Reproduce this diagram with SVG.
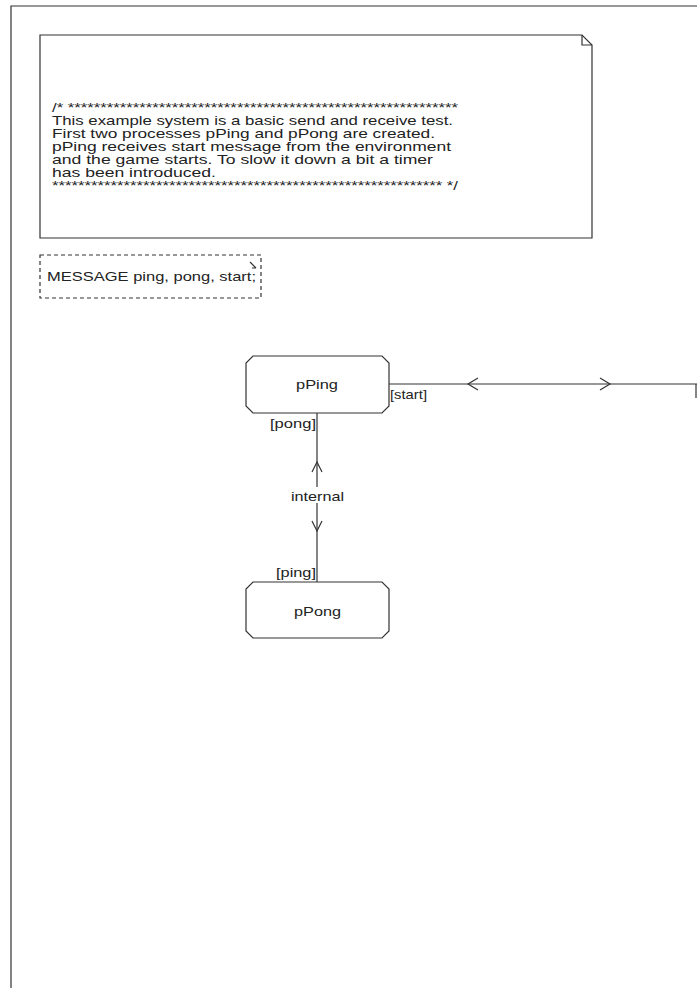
<svg xmlns="http://www.w3.org/2000/svg" width="697" height="988" viewBox="0 0 697 988">
<style>
.ln{fill:none;stroke:#333;stroke-width:1.2}
.box{fill:#fff;stroke:#333;stroke-width:1.2}
.dash{fill:#fff;stroke:#333;stroke-width:1.2;stroke-dasharray:4 3}
.t{font-family:"Liberation Sans",Arial,sans-serif;font-size:13.5px;fill:#222}
.lbl{font-family:"Liberation Sans",Arial,sans-serif;font-size:13px;fill:#222}
.nm{font-family:"Liberation Sans",Arial,sans-serif;font-size:13.5px;fill:#222}
</style>
<rect width="697" height="988" fill="#fff"/>
<g id="frame"><path class="ln" d="M11,988 V6 H697" stroke-width="1.5"/></g>
<g id="comment">
<path class="box" d="M40,35 H582 L592,45 V238 H40 Z"/>
<path class="ln" d="M582,35 V45 H592"/>
<text class="t" x="52" y="112" textLength="406" lengthAdjust="spacingAndGlyphs">/* ************************************************************</text>
<text class="t" x="52" y="125" textLength="401" lengthAdjust="spacingAndGlyphs">This example system is a basic send and receive test.</text>
<text class="t" x="52" y="138" textLength="383" lengthAdjust="spacingAndGlyphs">First two processes pPing and pPong are created.</text>
<text class="t" x="52" y="151" textLength="399" lengthAdjust="spacingAndGlyphs">pPing receives start message from the environment</text>
<text class="t" x="52" y="164" textLength="381" lengthAdjust="spacingAndGlyphs">and the game starts. To slow it down a bit a timer</text>
<text class="t" x="52" y="177" textLength="164" lengthAdjust="spacingAndGlyphs">has been introduced.</text>
<text class="t" x="52" y="190" textLength="406" lengthAdjust="spacingAndGlyphs">************************************************************ */</text>
</g>
<g id="declaration">
<rect class="dash" x="40" y="255" width="221" height="43"/>
<path class="ln" d="M250,262 L256,268 M252,268 H256"/>
<text class="t" x="47" y="281" textLength="209" lengthAdjust="spacingAndGlyphs">MESSAGE ping, pong, start;</text>
</g>
<g id="connectors">
<path class="ln" d="M389,384 H697"/>
<path class="ln" d="M478,378 L468,384 L478,390"/>
<path class="ln" d="M600,378 L610,384 L600,390"/>
<path class="ln" d="M696,384 V398"/>
<path class="ln" d="M317,413 V582"/>
<path class="ln" d="M312,472 L317,462 L322,472"/>
<path class="ln" d="M312,521 L317,531 L322,521"/>
<rect x="289" y="487" width="57" height="16" fill="#fff"/>
<text class="lbl" x="291" y="501" textLength="53" lengthAdjust="spacingAndGlyphs">internal</text>
<text class="lbl" x="390" y="399" textLength="37" lengthAdjust="spacingAndGlyphs">[start]</text>
<text class="lbl" x="270" y="428" textLength="46" lengthAdjust="spacingAndGlyphs">[pong]</text>
<text class="lbl" x="276" y="577" textLength="40" lengthAdjust="spacingAndGlyphs">[ping]</text>
</g>
<g id="pPing">
<path class="box" d="M253,356 H382 L389,363 V406 L382,413 H253 L246,406 V363 Z"/>
<text class="nm" x="296" y="389" textLength="42" lengthAdjust="spacingAndGlyphs">pPing</text>
</g>
<g id="pPong">
<path class="box" d="M253,582 H382 L389,589 V631 L382,638 H253 L246,631 V589 Z"/>
<text class="nm" x="294" y="616" textLength="47" lengthAdjust="spacingAndGlyphs">pPong</text>
</g>
</svg>
